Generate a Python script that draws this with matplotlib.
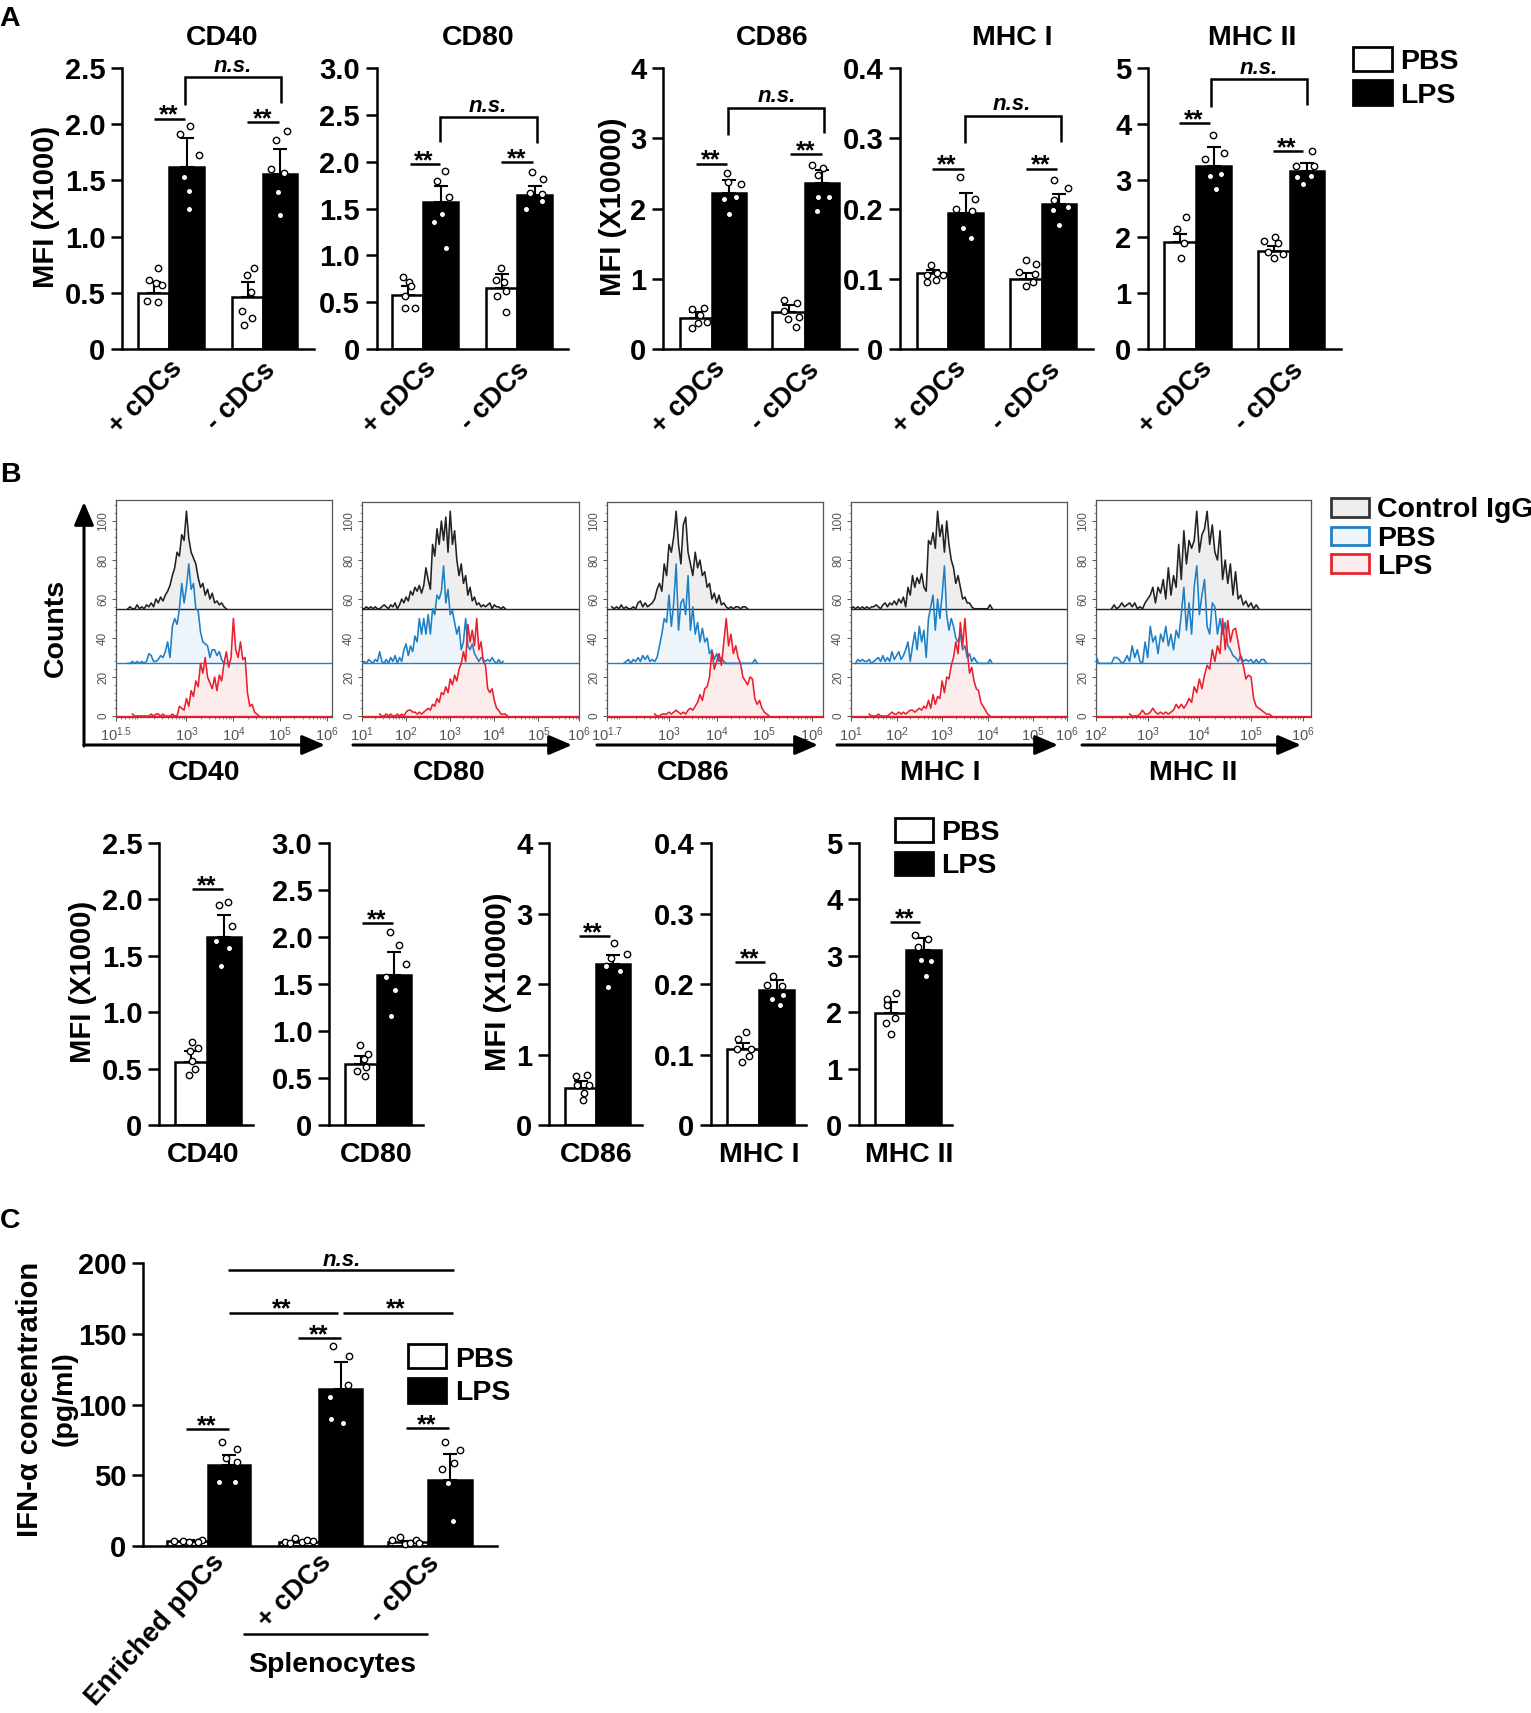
import matplotlib
matplotlib.use("Agg")
import matplotlib.pyplot as plt
import numpy as np
from matplotlib.lines import Line2D
from matplotlib.patches import FancyArrowPatch, Rectangle
from matplotlib.ticker import FixedLocator, NullFormatter
from matplotlib.transforms import Affine2D

plt.rcParams['font.family'] = ['Liberation Sans', 'DejaVu Sans']
plt.rcParams['font.weight'] = 'bold'
plt.rcParams['mathtext.default'] = 'regular'

# ---- data: bar panels (mean, top of error bar, single mice) ----
tick_25 = [0, 0.5, 1.0, 1.5, 2.0, 2.5]
lab_25 = ['0', '0.5', '1.0', '1.5', '2.0', '2.5']
tick_30 = [0, 0.5, 1.0, 1.5, 2.0, 2.5, 3.0]
lab_30 = ['0', '0.5', '1.0', '1.5', '2.0', '2.5', '3.0']
tick_4 = [0, 1, 2, 3, 4]
lab_4 = ['0', '1', '2', '3', '4']
tick_04 = [0, 0.1, 0.2, 0.3, 0.4]
lab_04 = ['0', '0.1', '0.2', '0.3', '0.4']
tick_5 = [0, 1, 2, 3, 4, 5]
lab_5 = ['0', '1', '2', '3', '4', '5']
tick_200 = [0, 50, 100, 150, 200]
lab_200 = ['0', '50', '100', '150', '200']

a_cd40_mean = [0.50, 1.62, 0.46, 1.56]
a_cd40_err = [0.60, 1.88, 0.60, 1.78]
a_cd40_pts = [[.72, .61, .585, .57, .43, .42], [1.98, 1.91, 1.73, 1.53, 1.41, 1.25],
              [.72, .66, .505, .34, .275, .21], [1.94, 1.86, 1.60, 1.57, 1.40, 1.19]]
a_cd40_off = [[4, -5, 2, 8, -7, 4], [3, -7, 12, -3, 2, 2], [6, -1, 3, -6, 4, -4], [7, -4, -9, 4, -2, 0]]

a_cd80_mean = [0.58, 1.57, 0.65, 1.64]
a_cd80_err = [0.67, 1.74, 0.80, 1.74]
a_cd80_pts = [[.77, .71, .67, .57, .44, .44], [1.90, 1.79, 1.62, 1.44, 1.36, 1.08],
              [.86, .74, .71, .57, .62, .39], [1.89, 1.81, 1.67, 1.65, 1.50, 1.58]]
a_cd80_off = [[-5, 1, 3, -3, -3, 7], [4, -4, 8, 1, -7, 5], [-1, -6, 2, -5, 4, 4], [-3, 8, -5, 7, -9, 7]]

a_cd86_mean = [0.44, 2.22, 0.525, 2.36]
a_cd86_err = [0.52, 2.40, 0.63, 2.55]
a_cd86_pts = [[.57, .58, .49, .39, .37, .30], [2.51, 2.38, 2.35, 2.14, 2.17, 1.92],
              [.70, .65, .54, .45, .43, .32], [2.62, 2.57, 2.48, 2.17, 2.17, 1.96]]
a_cd86_off = [[-4, 8, 4, 11, 2, -4], [-2, -1, 12, -5, 7, 0], [-5, 8, -5, 10, -1, 7], [-10, 1, -4, -4, 7, -5]]

a_mhc1_mean = [0.108, 0.194, 0.0995, 0.206]
a_mhc1_err = [0.112, 0.222, 0.108, 0.220]
a_mhc1_pts = [[.119, .105, .108, .105, .096, .098], [.245, .213, .199, .197, .172, .158],
              [.126, .121, .109, .107, .095, .089], [.240, .229, .212, .202, .198, .177]]
a_mhc1_off = [[-2, -6, 4, 10, -6, 3], [-6, 9, -10, 6, -3, 5], [0, 10, -7, 9, 7, 0], [-5, 9, -5, 9, -6, 0]]

a_mhc2_mean = [1.90, 3.26, 1.745, 3.16]
a_mhc2_err = [2.05, 3.59, 1.83, 3.31]
a_mhc2_pts = [[2.34, 2.14, 1.89, 1.62], [3.80, 3.49, 3.38, 3.11, 3.08, 2.85],
              [1.99, 1.93, 1.89, 1.73, 1.69, 1.62], [3.53, 3.25, 3.26, 3.06, 3.07, 2.94]]
a_mhc2_off = [[6, -3, 4, 1], [-1, 10, -9, 7, -4, 2], [1, -10, 4, -6, 9, 0], [5, -11, 7, -10, 4, -4]]

b_cd40_mean = [0.555, 1.67]
b_cd40_err = [0.655, 1.86]
b_cd40_pts = [[.74, .68, .66, .57, .50, .44], [1.98, 1.95, 1.76, 1.63, 1.57, 1.41]]
b_cd40_off = [[1, 7, -1, 1, 4, -2], [4, -5, 8, -8, 5, -3]]

b_cd80_mean = [0.65, 1.60]
b_cd80_err = [0.73, 1.84]
b_cd80_pts = [[.85, .76, .70, .62, .57, .52], [2.05, 1.91, 1.71, 1.57, 1.44, 1.16]]
b_cd80_off = [[-1, 7, 3, 5, -4, 4], [-4, 5, 12, -8, 1, -3]]

b_cd86_mean = [0.53, 2.28]
b_cd86_err = [0.62, 2.41]
b_cd86_pts = [[.70, .71, .57, .57, .46, .35], [2.58, 2.42, 2.25, 2.18, 1.96, 2.37]]
b_cd86_off = [[-5, 6, -4, 8, 3, 2], [1, 14, -7, 7, -5, -2]]

b_mhc1_mean = [0.108, 0.192]
b_mhc1_err = [0.116, 0.205]
b_mhc1_pts = [[.132, .122, .108, .108, .098, .089], [.212, .197, .199, .185, .179, .170]]
b_mhc1_off = [[3, -5, 8, -6, 6, -1], [-4, 5, -10, 6, -5, 3]]

b_mhc2_mean = [1.98, 3.11]
b_mhc2_err = [2.18, 3.31]
b_mhc2_pts = [[2.34, 2.24, 2.13, 1.89, 1.81, 1.62], [3.37, 3.29, 3.15, 2.93, 2.90, 2.65]]
b_mhc2_off = [[5, -4, -4, 4, -5, 0], [-9, 4, -6, -3, 7, 2]]

c_mean = [3.8, 57.5, 3.0, 111, 3.0, 46.7]
c_err = [4.2, 64.6, 3.6, 130, 3.8, 65]
c_pts = [[3.8, 3.3, 2.8, 3.0, 4.5, 2.6], [73.8, 68.6, 62.5, 59.7, 45.3, 45.3],
         [2.8, 5.4, 2.6, 4.2, 3.8, 1.9], [141, 134, 114, 105, 90, 87],
         [4.0, 6.1, 1.4, 2.4, 4.2, 1.9], [73.3, 67.7, 58.7, 54.7, 44.6, 17.7]]
c_off = [[-14, -5, 1, 10, 14, 10], [-7, 8, -3, 8, -10, 6], [-14, -4, 3, 8, 14, -9],
         [-8, 8, 7, -11, -10, 2], [-16, -8, -3, 2, 8, 11], [-5, 10, 4, -8, -2, 3]]

# ---- data: flow histograms, one value every 0.05 decade from the start decade ----
hist_step = 0.05
p1_black_start = 1.75
p1_black = [55, 56, 55, 55, 57, 55, 56, 55, 57, 56, 58, 56, 60, 58, 61, 59, 62, 64, 67, 72, 76, 84, 82, 93, 90,
            105, 91, 84, 81, 78, 71, 66, 68, 62, 65, 60, 63, 58, 59, 57, 58, 56, 55]
p1_blue_start = 1.75
p1_blue = [27, 27, 28, 27, 28, 27, 28, 27, 28, 32, 31, 28, 28, 29, 31, 30, 33, 38, 30, 46, 50, 47, 55, 68, 58,
           66, 78, 65, 68, 55, 54, 43, 38, 37, 36, 30, 34, 34, 31, 33, 29, 27, 27]
p1_red_start = 1.85
p1_red = [1, 0, 0, 0, 0, 0, 0, 0, 1, 0, 1, 1, 0, 1, 0, 0, 0, 1, 0, 0, 5, 4, 3, 9, 5, 13, 10, 18, 15, 27, 22, 30,
          20, 17, 14, 20, 13, 21, 18, 27, 33, 25, 30, 50, 34, 30, 38, 29, 30, 12, 5, 6, 2, 1, 0]

p2_black_start = 1.0
p2_black = [55, 55, 56, 55, 56, 55, 56, 55, 55, 56, 57, 56, 55, 57, 56, 58, 55, 57, 60, 58, 61, 59, 64, 62, 66,
            64, 67, 63, 67, 76, 70, 65, 88, 82, 96, 88, 100, 90, 102, 84, 105, 88, 95, 80, 72, 78, 68, 72, 62,
            66, 59, 61, 57, 58, 56, 57, 56, 57, 58, 55, 57, 56, 56, 55, 56, 55]
p2_blue_start = 1.0
p2_blue = [27, 28, 27, 29, 28, 27, 29, 28, 33, 28, 27, 29, 27, 30, 28, 31, 27, 30, 28, 34, 37, 31, 36, 33, 41, 38,
           50, 42, 50, 42, 52, 42, 55, 52, 62, 60, 64, 77, 58, 65, 52, 54, 48, 42, 46, 34, 38, 50, 36, 34, 37,
           32, 30, 28, 30, 29, 28, 29, 28, 30, 28, 27, 29, 27, 28]
p2_red_start = 1.4
p2_red = [1, 0, 0, 1, 0, 1, 0, 0, 1, 0, 1, 0, 2, 3, 3, 2, 2, 1, 2, 1, 2, 3, 4, 3, 6, 5, 9, 7, 12, 11, 15, 12, 19,
          16, 21, 18, 24, 27, 33, 28, 47, 38, 44, 36, 50, 34, 38, 28, 26, 14, 12, 14, 8, 4, 3, 1, 1, 1, 0]

p3_black_start = 1.8
p3_black = [56, 55, 56, 55, 57, 55, 56, 55, 55, 56, 55, 58, 59, 56, 58, 56, 57, 58, 60, 65, 68, 64, 78, 72, 88,
            84, 92, 105, 88, 78, 98, 102, 84, 78, 72, 84, 76, 80, 72, 74, 66, 68, 60, 63, 58, 62, 57, 58, 56,
            55, 56, 55, 56, 56, 55, 56, 56, 55]
p3_blue_start = 2.05
p3_blue = [27, 28, 29, 27, 29, 28, 30, 28, 31, 29, 31, 28, 29, 28, 30, 36, 42, 50, 48, 62, 46, 58, 78, 44, 58, 60,
           52, 72, 44, 56, 42, 48, 38, 45, 38, 40, 32, 34, 29, 32, 28, 30, 28, 27, 27, 27, 27, 27, 27, 27, 27,
           27, 27, 27, 27, 29, 27]
p3_red_start = 2.7
p3_red = [1, 0, 0, 1, 1, 1, 2, 1, 2, 3, 2, 1, 2, 1, 3, 4, 3, 5, 7, 11, 8, 14, 15, 20, 33, 24, 28, 32, 26, 38, 50,
          36, 42, 32, 36, 30, 27, 20, 18, 16, 20, 19, 9, 6, 8, 4, 2, 1, 0]

p4_black_start = 1.0
p4_black = [55, 56, 55, 56, 55, 56, 55, 56, 55, 56, 56, 57, 56, 55, 57, 58, 56, 58, 57, 59, 57, 60, 58, 61, 56,
            66, 62, 72, 66, 71, 68, 73, 66, 64, 90, 88, 94, 86, 105, 92, 98, 84, 100, 88, 80, 76, 68, 72, 66,
            60, 61, 58, 58, 56, 55, 55, 55, 55, 55, 55, 55, 57, 55]
p4_blue_start = 1.1
p4_blue = [27, 29, 28, 29, 28, 28, 29, 27, 28, 29, 30, 28, 31, 28, 30, 28, 33, 29, 31, 33, 29, 31, 34, 38, 28, 36,
           43, 34, 46, 38, 44, 30, 50, 56, 62, 44, 60, 50, 62, 77, 52, 44, 50, 46, 40, 38, 42, 34, 36, 30, 32,
           28, 30, 28, 27, 27, 27, 27, 27, 29, 27]
p4_red_start = 1.4
p4_red = [1, 0, 0, 0, 1, 0, 0, 0, 0, 1, 2, 1, 1, 2, 1, 2, 1, 2, 3, 3, 2, 3, 4, 3, 5, 4, 8, 4, 11, 6, 10, 9, 18, 12,
          20, 19, 26, 30, 38, 32, 48, 36, 50, 34, 22, 25, 18, 14, 13, 7, 5, 3, 1, 0]

p5_black_start = 2.3
p5_black = [55, 57, 55, 56, 58, 56, 57, 58, 56, 58, 55, 56, 55, 58, 60, 62, 66, 58, 66, 63, 70, 60, 76, 62, 72, 66,
            88, 70, 95, 78, 90, 86, 90, 105, 84, 93, 96, 105, 88, 98, 84, 80, 95, 70, 80, 68, 78, 62, 74, 60,
            62, 57, 59, 56, 58, 55, 57, 55]
p5_blue_start = 2.0
p5_blue = [31, 27, 27, 27, 27, 27, 27, 30, 30, 29, 27, 28, 31, 28, 36, 30, 34, 28, 27, 38, 30, 46, 38, 41, 32, 42,
           38, 46, 36, 42, 34, 44, 40, 52, 66, 44, 58, 42, 66, 77, 52, 62, 70, 46, 42, 58, 56, 42, 50, 42, 48,
           36, 34, 31, 30, 28, 31, 28, 29, 28, 29, 27, 29, 27, 29, 29, 27]
p5_red_start = 2.65
p5_red = [1, 0, 0, 0, 1, 3, 1, 1, 2, 4, 2, 1, 2, 1, 2, 1, 2, 3, 6, 4, 6, 4, 6, 9, 7, 15, 12, 19, 14, 21, 26, 24, 34,
          28, 36, 32, 50, 34, 49, 38, 44, 45, 38, 30, 26, 19, 21, 20, 9, 5, 4, 3, 2, 1, 1, 0]

flow_names = ['CD40', 'CD80', 'CD86', 'MHC I', 'MHC II']
flow_range = [(1.5, 6.1), (1.0, 5.92), (1.7, 6.23), (1.0, 5.74), (2.0, 6.16)]
flow_ticks = [[1.5, 3, 4, 5, 6], [1, 2, 3, 4, 5, 5.92], [1.7, 3, 4, 5, 6], [1, 2, 3, 4, 5, 5.74], [2, 3, 4, 5, 6]]
flow_labels = [['1.5', '3', '4', '5', '6'], ['1', '2', '3', '4', '5', '6'], ['1.7', '3', '4', '5', '6'],
               ['1', '2', '3', '4', '5', '6'], ['2', '3', '4', '5', '6']]
count_ticks = [0, 20, 40, 60, 80, 100]
black_base, blue_base, red_base = 55, 27, 0

# ---- layout helpers, everything below in pixels of the output picture ----
W, H = 1531, 1713
fig = plt.figure(figsize=(W / 100, H / 100), dpi=100, facecolor='white')
px = Affine2D().scale(1, -1).translate(0, H)
LW = 1.8


def label(x, y, s, size=20.5, **kw):
    # y is the middle of the capitals
    fig.text(x, y + size * 0.5, s, transform=px, fontsize=size, ha=kw.pop('ha', 'center'), va='baseline', **kw)


def side(x, y, s, size=20.5, rot=90):
    fig.text(x, y, s, transform=px, fontsize=size, rotation=rot, ha='center', va='center')


def line(xs, ys, lw=LW):
    fig.add_artist(Line2D(xs, ys, transform=px, color='k', lw=lw, solid_capstyle='butt', solid_joinstyle='miter'))


def stars(x0, x1, y, tx, ty):
    line([x0, x1], [y, y])
    fig.text(tx, ty + 14, '**', transform=px, fontsize=18, ha='center', va='baseline')


def bracket(x0, x1, top, b0, b1, tx, ty):
    line([x0, x0, x1, x1], [b0, top, top, b1])
    fig.text(tx, ty, 'n.s.', transform=px, fontsize=16, style='italic', ha='center', va='center')


def legend_key(x0, y0, x1, y1, fc, ec, lw=LW * 1.1):
    fig.add_artist(Rectangle((x0, y0), x1 - x0, y1 - y0, transform=px, fc=fc, ec=ec, lw=lw))


def bar_panel(spine, end, top, bot, ymax, ticks, labels, edges, mean, err, pts, off):
    ax = fig.add_axes([spine / W, 1 - bot / H, (end - spine) / W, (bot - top) / H])
    ax.set_xlim(0, end - spine)
    ax.set_ylim(0, ymax)
    for k in range(len(mean)):
        left = edges[k][0] - spine
        wid = edges[k][1] - edges[k][0]
        col = 'white' if k % 2 == 0 else 'black'
        ax.bar(left, mean[k], wid, align='edge', color=col, edgecolor='black', lw=LW, zorder=2 + k % 2)
        mid = left + wid / 2
        ax.errorbar(mid, mean[k], yerr=[[0], [err[k] - mean[k]]], color='k', capsize=4.7, elinewidth=1.5,
                    capthick=1.5, zorder=4)
        ax.plot(mid + np.array(off[k]), pts[k], 'o', mfc='white', mec='k', mew=1.0, ms=4.6, zorder=5, clip_on=False)
    for s in ['top', 'right']:
        ax.spines[s].set_visible(False)
    for s in ['left', 'bottom']:
        ax.spines[s].set_linewidth(LW)
    ax.set_xticks([])
    ax.set_yticks(ticks)
    ax.set_yticklabels(labels, fontsize=21)
    ax.tick_params(axis='y', length=8, width=LW, pad=4)
    return ax


# ---- panel A ----
label(10, 16, 'A', ha='center')
a_names = ['CD40', 'CD80', 'CD86', 'MHC I', 'MHC II']
a_spine = [122, 376.5, 663, 900, 1148]
a_end = [314, 568, 857, 1093, 1341]
a_title_x = [222, 478, 772, 1012, 1252]
a_edges = [[(138, 169), (169, 204), (232, 263), (263, 297)], [(392, 423), (423, 458), (486, 517), (517, 552)],
           [(680, 712), (712, 746), (772, 805), (805, 839)], [(917, 948), (948, 983), (1010, 1042), (1042, 1076)],
           [(1164, 1196), (1196, 1231), (1258, 1290), (1290, 1324)]]
a_ymax = [2.5, 3.0, 4, 0.4, 5]
a_ticks = [(tick_25, lab_25), (tick_30, lab_30), (tick_4, lab_4), (tick_04, lab_04), (tick_5, lab_5)]
a_vals = [(a_cd40_mean, a_cd40_err, a_cd40_pts, a_cd40_off), (a_cd80_mean, a_cd80_err, a_cd80_pts, a_cd80_off),
          (a_cd86_mean, a_cd86_err, a_cd86_pts, a_cd86_off), (a_mhc1_mean, a_mhc1_err, a_mhc1_pts, a_mhc1_off),
          (a_mhc2_mean, a_mhc2_err, a_mhc2_pts, a_mhc2_off)]
a_xlab = [(146, 241), (400, 495), (689, 785), (930, 1026), (1176, 1269)]
for i in range(5):
    bar_panel(a_spine[i], a_end[i], 68, 349, a_ymax[i], a_ticks[i][0], a_ticks[i][1], a_edges[i], *a_vals[i])
    label(a_title_x[i], 35, a_names[i])
    side(a_xlab[i][0], 397, '+ cDCs', size=19.5, rot=45)
    side(a_xlab[i][1], 397, '- cDCs', size=19.5, rot=45)

side(46, 207, 'MFI (X1000)', size=21)
side(613, 207, 'MFI (X10000)', size=21)

stars(154, 185, 119, 169, 108)
stars(247, 279, 122, 263, 112)
bracket(185, 281, 77, 105, 103, 233, 66)
stars(410, 440, 164, 424, 154)
stars(501, 533, 162, 517, 152)
bracket(440, 537, 117, 142, 143, 488, 106)
stars(696, 727, 164, 711, 153)
stars(790, 822, 154, 806, 144)
bracket(728, 824, 108, 135, 133, 777, 96)
stars(932, 964, 169, 947, 158)
stars(1026, 1057, 169, 1041, 158)
bracket(965, 1061, 116, 143, 142, 1012, 104)
stars(1179, 1210, 123, 1194, 113)
stars(1273, 1303, 151, 1287, 141)
bracket(1211, 1307, 79, 107, 105, 1259, 68)

legend_key(1353, 47, 1392, 71, 'white', 'k')
legend_key(1353, 80, 1392, 105, 'k', 'k')
label(1400, 59, 'PBS', ha='left')
label(1400, 93, 'LPS', ha='left')

# ---- panel B, histograms ----
label(10, 472, 'B', ha='center')
flow_box = [(116, 332, 500), (362, 579, 502), (607, 823, 502), (851, 1067, 502), (1096, 1311, 500)]
flow_traces = [[(p1_black_start, p1_black), (p1_blue_start, p1_blue), (p1_red_start, p1_red)],
               [(p2_black_start, p2_black), (p2_blue_start, p2_blue), (p2_red_start, p2_red)],
               [(p3_black_start, p3_black), (p3_blue_start, p3_blue), (p3_red_start, p3_red)],
               [(p4_black_start, p4_black), (p4_blue_start, p4_blue), (p4_red_start, p4_red)],
               [(p5_black_start, p5_black), (p5_blue_start, p5_blue), (p5_red_start, p5_red)]]
trace_col = ['#222222', '#1f7fc4', '#e8202f']
trace_fill = ['#eeeeee', '#edf5fb', '#fcecec']
trace_base = [black_base, blue_base, red_base]
flow_name_x = [204, 449, 693, 940, 1193]
arrow_x = [(84, 325), (353, 572), (597, 818), (837, 1058), (1082, 1301)]

for i in range(5):
    x0, x1, top = flow_box[i]
    ax = fig.add_axes([x0 / W, 1 - 717 / H, (x1 - x0) / W, (717 - top) / H])
    ax.set_xscale('log')
    lo, hi = flow_range[i]
    ax.set_xlim(10 ** lo, 10 ** hi)
    ax.set_ylim(-0.5, (716 - top) / 1.95)
    for k in range(3):
        start, vals = flow_traces[i][k]
        xs = 10 ** (start + hist_step * np.arange(len(vals)))
        ys = np.array(vals)
        ax.fill_between(xs, trace_base[k], ys, color=trace_fill[k], lw=0, zorder=1 + k)
    for k in range(3):
        start, vals = flow_traces[i][k]
        xs = 10 ** (start + hist_step * np.arange(len(vals)))
        ax.plot([10 ** lo, 10 ** hi], [trace_base[k], trace_base[k]], color=trace_col[k], lw=1.0, zorder=4 + k)
        ax.plot(xs, vals, color=trace_col[k], lw=1.15, zorder=4 + k)
    for s in ax.spines.values():
        s.set_color('#555555')
        s.set_linewidth(0.9)
    ax.set_yticks(count_ticks)
    ax.set_yticklabels([str(v) for v in count_ticks], rotation=90, va='center', fontsize=8.5, color='#555555',
                       fontweight='normal')
    ax.yaxis.set_minor_locator(FixedLocator(np.arange(0, 110, 4)))
    ax.tick_params(axis='y', which='major', length=3, width=0.7, color='#555555', pad=2)
    ax.tick_params(axis='y', which='minor', length=1.5, width=0.5, color='#555555')
    ax.set_xticks([10 ** t for t in flow_ticks[i]])
    ax.set_xticklabels(['10$^{' + t + '}$' for t in flow_labels[i]], fontsize=10.5, color='#555555',
                       fontweight='normal')
    ax.xaxis.set_minor_formatter(NullFormatter())
    ax.tick_params(axis='x', which='major', length=3, width=0.7, color='#555555', pad=3)
    ax.tick_params(axis='x', which='minor', length=1.5, width=0.5, color='#555555')
    label(flow_name_x[i], 770, flow_names[i])
    fig.add_artist(FancyArrowPatch((arrow_x[i][0], 745), (arrow_x[i][1], 745), transform=px,
                                   arrowstyle='-|>,head_length=14,head_width=6', mutation_scale=1,
                                   shrinkA=0, shrinkB=0, lw=2.2, color='k'))

fig.add_artist(FancyArrowPatch((84, 746), (84, 502), transform=px, arrowstyle='-|>,head_length=14,head_width=6',
                               mutation_scale=1, shrinkA=0, shrinkB=0, lw=2.2, color='k'))
side(56, 628, 'Counts')

legend_key(1331, 498, 1369, 517, '#eeeeee', '#333333')
legend_key(1331, 527, 1369, 545, '#edf5fb', '#1f7fc4')
legend_key(1331, 554, 1369, 573, '#fcecec', '#e8202f')
label(1377, 507, 'Control IgG', ha='left')
label(1377, 536, 'PBS', ha='left')
label(1377, 564, 'LPS', ha='left')

# ---- panel B, lower bars ----
b_spine = [159, 329, 549, 711, 859]
b_end = [253, 423, 642, 806, 952]
b_edges = [[(175, 207), (207, 241)], [(345, 377), (377, 411)], [(565, 596), (596, 630)], [(727, 759), (759, 794)],
           [(875, 906), (906, 941)]]
b_vals = [(b_cd40_mean, b_cd40_err, b_cd40_pts, b_cd40_off), (b_cd80_mean, b_cd80_err, b_cd80_pts, b_cd80_off),
          (b_cd86_mean, b_cd86_err, b_cd86_pts, b_cd86_off), (b_mhc1_mean, b_mhc1_err, b_mhc1_pts, b_mhc1_off),
          (b_mhc2_mean, b_mhc2_err, b_mhc2_pts, b_mhc2_off)]
b_label_x = [203, 376, 596, 759, 909]
for i in range(5):
    bar_panel(b_spine[i], b_end[i], 843, 1125, a_ymax[i], a_ticks[i][0], a_ticks[i][1], b_edges[i], *b_vals[i])
    label(b_label_x[i], 1152, flow_names[i])

side(83, 982, 'MFI (X1000)', size=21)
side(498, 982, 'MFI (X10000)', size=21)
stars(192, 223, 889, 207, 879)
stars(362, 393, 923, 377, 913)
stars(579, 610, 936, 593, 926)
stars(735, 765, 962, 750, 952)
stars(890, 920, 922, 905, 912)
legend_key(895, 818, 933, 842, 'white', 'k')
legend_key(895, 852, 933, 875, 'k', 'k')
label(941, 830, 'PBS', ha='left')
label(941, 863, 'LPS', ha='left')

# ---- panel C ----
label(10, 1218, 'C', ha='center')
c_edges = [(167, 208), (208, 250), (279, 319), (319, 362), (388, 428), (428, 472)]
bar_panel(143, 497, 1263, 1546, 200, tick_200, lab_200, c_edges, c_mean, c_err, c_pts, c_off)
side(30, 1399, 'IFN-α concentration', size=21)
side(65, 1399, '(pg/ml)')
side(155, 1630, 'Enriched pDCs', size=19.5, rot=48)
side(295, 1591, '+ cDCs', size=19.5, rot=45)
side(405, 1590, '- cDCs', size=19.5, rot=45)
line([243, 428], [1634, 1634])
label(332, 1662, 'Splenocytes')

line([228, 454], [1270, 1270])
fig.text(342, 1261, 'n.s.', transform=px, fontsize=16, style='italic', ha='center', va='center')
stars(229, 338, 1313, 282, 1302)
stars(343, 453, 1313, 396, 1302)
stars(298, 341, 1338, 319, 1328)
stars(186, 229, 1429, 207, 1419)
stars(406, 449, 1428, 427, 1418)
legend_key(408, 1344, 446, 1368, 'white', 'k')
legend_key(408, 1378, 446, 1403, 'k', 'k')
label(455, 1357, 'PBS', ha='left')
label(455, 1390, 'LPS', ha='left')

fig.savefig('out.png', dpi=100)
